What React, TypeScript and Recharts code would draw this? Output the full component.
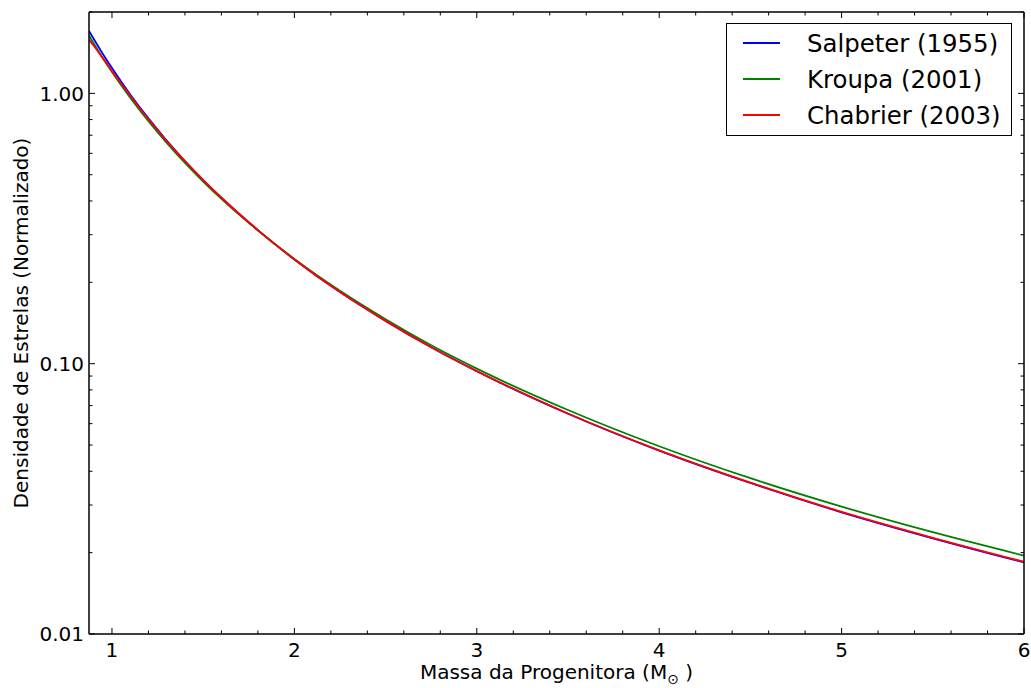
import { Legend, Line, LineChart, XAxis, YAxis } from 'recharts';

// progenitor mass (solar masses)
const MASS = [0.874, 0.9, 0.95, 1, 1.1, 1.2, 1.3, 1.4, 1.5, 1.6, 1.8, 2, 2.25, 2.5, 2.75, 3, 3.5, 4, 4.5, 5, 5.5, 6];

// normalized star density
const SALPETER = [1.70, 1.588, 1.399, 1.24, 0.991, 0.808, 0.669, 0.562, 0.478, 0.411, 0.312, 0.243, 0.184, 0.144, 0.115, 0.0938, 0.0653, 0.0477, 0.0362, 0.0282, 0.0226, 0.0184];
const KROUPA = [1.636, 1.529, 1.35, 1.2, 0.964, 0.789, 0.656, 0.553, 0.472, 0.407, 0.311, 0.244, 0.186, 0.146, 0.117, 0.0959, 0.0674, 0.0495, 0.0377, 0.0296, 0.0238, 0.0195];
const CHABRIER = [1.58, 1.50, 1.35, 1.21, 0.98, 0.802, 0.666, 0.561, 0.478, 0.411, 0.312, 0.243, 0.184, 0.144, 0.115, 0.0939, 0.0654, 0.0478, 0.0363, 0.0283, 0.0227, 0.0185];

const SERIES_NAMES = ['Salpeter (1955)', 'Kroupa (2001)', 'Chabrier (2003)'];
const SERIES_COLORS = ['#0000ff', '#008000', '#ff0000'];

const X_TICKS = [1, 1.2, 1.4, 1.6, 1.8, 2, 2.2, 2.4, 2.6, 2.8, 3, 3.2, 3.4, 3.6, 3.8, 4, 4.2, 4.4, 4.6, 4.8, 5, 5.2, 5.4, 5.6, 5.8, 6];
const X_LABELED = [1, 2, 3, 4, 5, 6];
const Y_TICKS = [0.01, 0.02, 0.03, 0.04, 0.05, 0.06, 0.07, 0.08, 0.09, 0.1, 0.2, 0.3, 0.4, 0.5, 0.6, 0.7, 0.8, 0.9, 1, 2];
const Y_LABELED = [0.01, 0.1, 1];

const data = MASS.map((m, i) => ({ m, salpeter: SALPETER[i], kroupa: KROUPA[i], chabrier: CHABRIER[i] }));

const FONT = '"DejaVu Sans", sans-serif';
const TOP = 12;
const BOTTOM = 634;
const LEFT = 89;
const RIGHT = 1024;
const MAJOR = 6;
const MINOR = 3.5;

function XTick(props: any) {
  const x = props.payload.coordinate;
  const value = props.payload.value;
  const major = X_LABELED.includes(value);
  const len = major ? MAJOR : MINOR;
  return (
    <g>
      <line x1={x} x2={x} y1={BOTTOM} y2={BOTTOM - len} stroke="#000" strokeWidth={1} />
      <line x1={x} x2={x} y1={TOP} y2={TOP + len} stroke="#000" strokeWidth={1} />
      {major && (
        <text x={x} y={657} textAnchor="middle" fontFamily={FONT} fontSize={20} fill="#000">
          {value}
        </text>
      )}
    </g>
  );
}

function YTick(props: any) {
  const y = props.payload.coordinate;
  const value = props.payload.value;
  const major = Y_LABELED.includes(value);
  const len = major ? MAJOR : MINOR;
  return (
    <g>
      <line x1={LEFT} x2={LEFT + len} y1={y} y2={y} stroke="#000" strokeWidth={1} />
      <line x1={RIGHT} x2={RIGHT - len} y1={y} y2={y} stroke="#000" strokeWidth={1} />
      {major && (
        <text x={LEFT - 5} y={y} dy="0.36em" textAnchor="end" fontFamily={FONT} fontSize={20} fill="#000">
          {value.toFixed(2)}
        </text>
      )}
    </g>
  );
}

function LegendBox() {
  return (
    <div style={{ width: 286, height: 113, border: '1px solid #000', boxSizing: 'border-box', background: '#fff' }}>
      <svg width={284} height={111} style={{ display: 'block' }}>
        {SERIES_NAMES.map((name, i) => {
          const y = 19 + i * 36;
          return (
            <g key={name}>
              <line x1={16} x2={53} y1={y} y2={y} stroke={SERIES_COLORS[i]} strokeWidth={1.8} />
              <text x={80} y={y + 9} fontFamily={FONT} fontSize={24.4} fill="#000">
                {name}
              </text>
            </g>
          );
        })}
      </svg>
    </div>
  );
}

export default function App() {
  const axisLine = { stroke: '#000', strokeWidth: 1.5 };
  return (
    <div style={{ position: 'absolute', left: 0, top: 0, background: '#fff' }}>
      <LineChart width={1031} height={688} data={data} margin={{ top: TOP - 1, right: 6, left: 9, bottom: 0 }}>
        <XAxis
          dataKey="m"
          type="number"
          domain={[0.874, 6]}
          allowDataOverflow
          ticks={X_TICKS}
          interval={0}
          tickLine={false}
          axisLine={axisLine}
          height={54}
          tick={<XTick />}
          label={{
            content: () => (
              <text x={(LEFT + RIGHT) / 2} y={679} textAnchor="middle" fontFamily={FONT} fontSize={20} fill="#000">
                Massa da Progenitora (M
                <tspan fontSize={14} dy={5}>⊙</tspan>
                <tspan dy={-5}> )</tspan>
              </text>
            ),
          }}
        />
        <XAxis xAxisId="top" orientation="top" type="number" domain={[0.874, 6]} height={1} tick={false} tickLine={false} axisLine={axisLine} />
        <YAxis
          scale="log"
          type="number"
          domain={[0.01, 2]}
          allowDataOverflow
          ticks={Y_TICKS}
          interval={0}
          tickLine={false}
          axisLine={axisLine}
          width={80}
          tick={<YTick />}
          label={{
            content: () => (
              <text
                x={28}
                y={(TOP + BOTTOM) / 2}
                transform={`rotate(-90, 28, ${(TOP + BOTTOM) / 2})`}
                textAnchor="middle"
                fontFamily={FONT}
                fontSize={20}
                fill="#000"
              >
                Densidade de Estrelas (Normalizado)
              </text>
            ),
          }}
        />
        <YAxis yAxisId="right" orientation="right" scale="log" type="number" domain={[0.01, 2]} width={1} tick={false} tickLine={false} axisLine={axisLine} />
        <Legend
          layout="horizontal"
          verticalAlign="middle"
          align="center"
          content={<LegendBox />}
          wrapperStyle={{ position: 'absolute', left: 726, top: 23, width: 286, height: 113 }}
        />
        <Line type="monotone" dataKey="salpeter" name={SERIES_NAMES[0]} stroke={SERIES_COLORS[0]} strokeWidth={1.8} dot={false} isAnimationActive={false} />
        <Line type="monotone" dataKey="kroupa" name={SERIES_NAMES[1]} stroke={SERIES_COLORS[1]} strokeWidth={1.8} dot={false} isAnimationActive={false} />
        <Line type="monotone" dataKey="chabrier" name={SERIES_NAMES[2]} stroke={SERIES_COLORS[2]} strokeWidth={1.8} dot={false} isAnimationActive={false} />
      </LineChart>
    </div>
  );
}
